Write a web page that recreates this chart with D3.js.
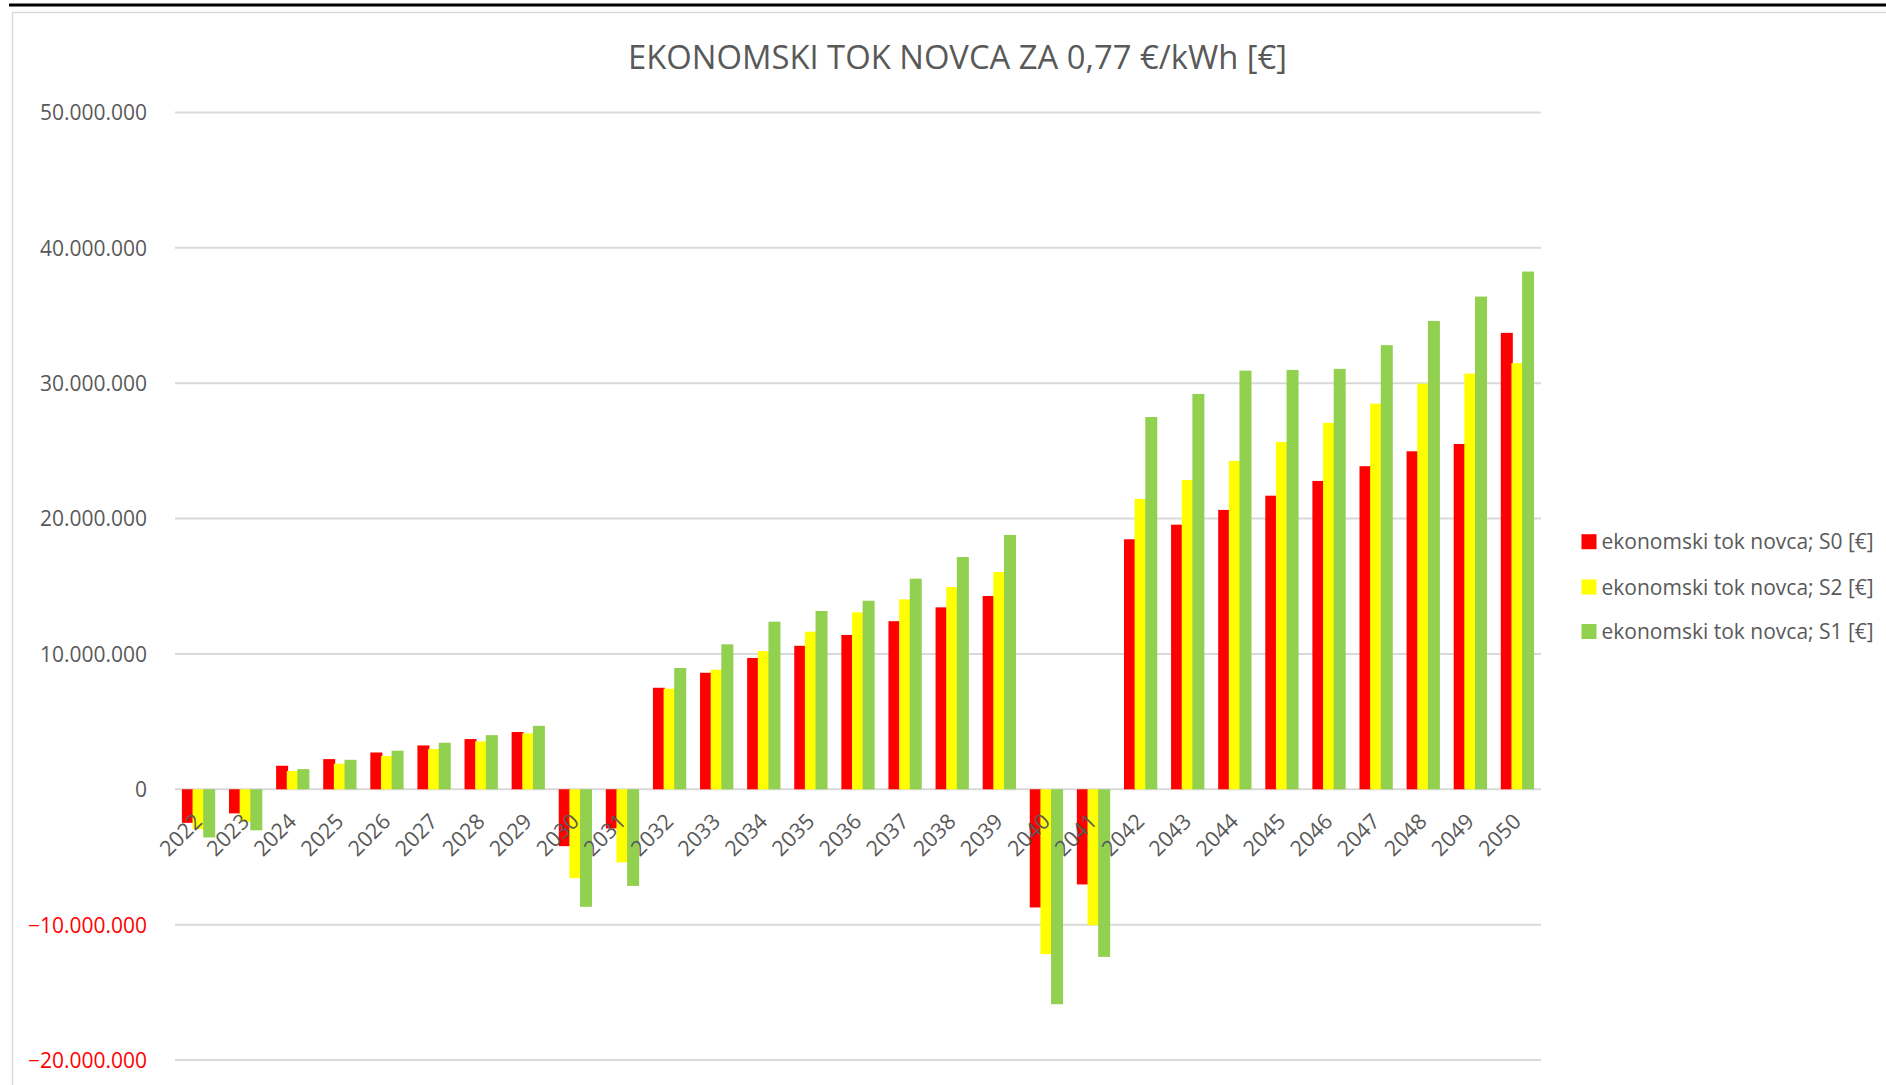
<!DOCTYPE html>
<html>
<head>
<meta charset="utf-8">
<script src="https://cdn.jsdelivr.net/npm/d3@7"></script>
<style>
  html, body { margin: 0; padding: 0; background: #ffffff; }
  svg { display: block; }
  text { font-family: "Open Sans", "Noto Sans", sans-serif; fill: #595959; }
</style>
</head>
<body>
<svg id="chart" width="1886" height="1085"></svg>
<script>
// Economic cash flow per year, three scenarios (values in EUR)
const years = ["2022","2023","2024","2025","2026","2027","2028","2029","2030","2031",
  "2032","2033","2034","2035","2036","2037","2038","2039","2040","2041",
  "2042","2043","2044","2045","2046","2047","2048","2049","2050"];

const s0Values = [-2480000,-1780000,1740000,2230000,2720000,3240000,3710000,4230000,-4200000,-2890000,
  7500000,8610000,9700000,10600000,11400000,12420000,13440000,14280000,-8730000,-7030000,
  18470000,19550000,20640000,21690000,22780000,23870000,24970000,25510000,33720000];

const s2Values = [-2940000,-2400000,1350000,1890000,2450000,2970000,3540000,4130000,-6560000,-5400000,
  7430000,8830000,10210000,11640000,13070000,14030000,14940000,16050000,-12180000,-10040000,
  21450000,22850000,24260000,25660000,27070000,28490000,29970000,30710000,31480000];

const s1Values = [-3560000,-3030000,1490000,2180000,2850000,3440000,4000000,4690000,-8680000,-7140000,
  8960000,10710000,12380000,13170000,13930000,15560000,17160000,18790000,-15880000,-12380000,
  27500000,29210000,30930000,30980000,31060000,32810000,34600000,36400000,38250000];

const seriesNames = ["ekonomski tok novca; S0 [€]", "ekonomski tok novca; S2 [€]", "ekonomski tok novca; S1 [€]"];
const seriesColors = ["#ff0000", "#ffff00", "#92d050"];
const seriesValues = [s0Values, s2Values, s1Values];

const yTicks = [-20000000,-10000000,0,10000000,20000000,30000000,40000000,50000000];
const chartTitle = "EKONOMSKI TOK NOVCA ZA 0,77 €/kWh [€]";

const svg = d3.select("#chart");

// sheet rule above the chart object and the chart object's frame
svg.append("rect").attr("x", 9).attr("y", 3.5).attr("width", 1877).attr("height", 3).attr("fill", "#000");
svg.append("path")
  .attr("d", "M12.5,1085 L12.5,12.5 L1886,12.5")
  .attr("fill", "none").attr("stroke", "#d9d9d9").attr("stroke-width", 1.5);

const plot = { left: 175, right: 1541, top: 112.5, bottom: 1060 };

const x = d3.scaleBand().domain(years).range([plot.left, plot.right]).paddingInner(0).paddingOuter(0);
const y = d3.scaleLinear().domain([-20000000, 50000000]).range([plot.bottom, plot.top]);

// thousands separated with dots
const fmt = d3.formatLocale({ decimal: ",", thousands: ".", grouping: [3], currency: ["", "€"] }).format(",.0f");

// gridlines
svg.append("g").selectAll("line").data(yTicks).join("line")
  .attr("x1", plot.left).attr("x2", plot.right)
  .attr("y1", d => y(d)).attr("y2", d => y(d))
  .attr("stroke", "#d9d9d9").attr("stroke-width", 2);

// value axis labels (negative values shown in red)
const yAxis = d3.axisLeft(y).tickValues(yTicks).tickFormat(d => fmt(d)).tickSize(0).tickPadding(0);
const yg = svg.append("g").attr("transform", `translate(${plot.left - 28},0)`).call(yAxis);
yg.select(".domain").remove();
yg.selectAll("text")
  .attr("dy", "0.35em")
  .style("font-family", "'Open Sans', sans-serif")
  .style("font-size", "21px")
  .style("fill", d => d < 0 ? "#ff0000" : "#595959");

// clustered bars: each series shifted by a step, later series drawn on top
const B = x.bandwidth();
const barW = B * 0.2548;
const step = B * 0.226;
const groupW = 2 * step + barW;

seriesValues.forEach((vals, si) => {
  svg.append("g").selectAll("rect").data(years).join("rect")
    .attr("x", (d) => x(d) + (B - groupW) / 2 + si * step)
    .attr("width", barW)
    .attr("y", (d, i) => Math.min(y(vals[i]), y(0)))
    .attr("height", (d, i) => Math.abs(y(vals[i]) - y(0)))
    .attr("fill", seriesColors[si]);
});

// category labels, rotated
const xAxis = d3.axisBottom(x).tickSize(0).tickPadding(0);
const xg = svg.append("g").attr("transform", `translate(0,${y(0)})`).call(xAxis);
xg.select(".domain").remove();
xg.selectAll(".tick text")
  .attr("y", 0).attr("dy", 0)
  .attr("text-anchor", "end")
  .attr("transform", "translate(5,33.5) rotate(-45)")
  .style("font-family", "'Open Sans', sans-serif")
  .style("font-size", "21.5px")
  .style("fill", "#595959");

// title, fitted to its width
const title = svg.append("text")
  .attr("x", 957.5).attr("y", 68.5)
  .attr("text-anchor", "middle")
  .style("font-size", "30px")
  .text(chartTitle);
const tw = title.node().getComputedTextLength();
title.style("font-size", (30 * 659 / tw).toFixed(2) + "px");

// legend
const legendRows = [541.7, 587, 631.5];
const legend = svg.append("g");
seriesNames.forEach((name, i) => {
  legend.append("rect")
    .attr("x", 1581.5).attr("y", legendRows[i] - 7.5)
    .attr("width", 15).attr("height", 15)
    .attr("fill", seriesColors[i]);
  legend.append("text")
    .attr("x", 1601.5).attr("y", legendRows[i])
    .attr("dy", "0.36em")
    .style("font-size", "21px")
    .text(name);
});
</script>
</body>
</html>
